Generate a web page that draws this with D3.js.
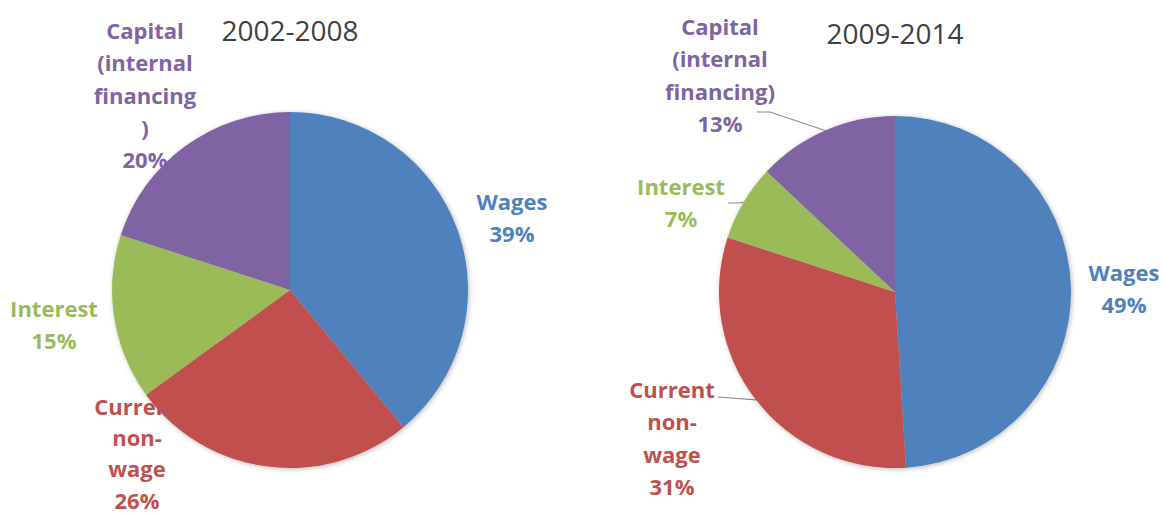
<!DOCTYPE html>
<html>
<head>
<meta charset="utf-8">
<script src="https://cdn.jsdelivr.net/npm/d3@7/dist/d3.min.js"></script>
<style>
  html, body { margin: 0; padding: 0; background: #fff; }
  svg { display: block; font-family: "Open Sans", sans-serif; }
</style>
</head>
<body>
<svg id="chart" width="1164" height="515"></svg>
<script>
// data
const categories = ['Wages', 'Current non-wage', 'Interest', 'Capital (internal financing)']
const periods = ['2002-2008', '2009-2014']
const values_2002_2008 = [39, 26, 15, 20]
const values_2009_2014 = [49, 31, 7, 13]

// label text, split the way the chart wraps it
const label_lines_2002_2008 = [['Wages'], ['Current', 'non-', 'wage'], ['Interest'], ['Capital', '(internal', 'financing', ')']]
const label_lines_2009_2014 = [['Wages'], ['Current', 'non-', 'wage'], ['Interest'], ['Capital', '(internal', 'financing)']]

const colors = ['#4f81bd', '#c0504d', '#9bbb59', '#8064a2']

// layout for each pie: center, radius, title baseline, label anchors
const layouts = [
  {
    cx: 290, cy: 290, r: 178, title_y: 41,
    labels: [[512, 210], [137, 415], [54, 317], [145, 39]],
    spacing: [32.3, 31.2, 32.3, 32.3],
    leaders: [null, null, null, null]
  },
  {
    cx: 895, cy: 292, r: 176, title_y: 44,
    labels: [[1124, 281], [672, 398], [681, 195], [720, 35]],
    spacing: [32.3, 32.3, 32.3, 32.3],
    leaders: [null, [[718, 397]], [[728, 203], [737, 203]], [[757, 112], [770, 112]]]
  }
]

const svg = d3.select('#chart')

const defs = svg.append('defs')
const shadow = defs.append('filter')
  .attr('id', 'pie_shadow')
  .attr('x', '-10%').attr('y', '-10%')
  .attr('width', '120%').attr('height', '120%')
shadow.append('feDropShadow')
  .attr('dx', 1).attr('dy', 1)
  .attr('stdDeviation', 2.5)
  .attr('flood-color', '#000')
  .attr('flood-opacity', 0.28)

const pie = d3.pie().sort(null).value(d => d)

function draw_pie(values, lines, title, lay) {
  let g = svg.append('g')

  // title
  g.append('text')
    .attr('x', lay.cx)
    .attr('y', lay.title_y)
    .attr('text-anchor', 'middle')
    .attr('font-size', 28)
    .attr('fill', '#404040')
    .text(title)

  let arcs = pie(values)
  let arc = d3.arc().innerRadius(0).outerRadius(lay.r)
  let edge = d3.arc().innerRadius(lay.r).outerRadius(lay.r)

  // labels sit beneath the pie
  let labels = g.append('g')
  arcs.forEach((a, i) => {
    let [lx, ly] = lay.labels[i]
    let txt = labels.append('text')
      .attr('text-anchor', 'middle')
      .attr('font-size', 22)
      .attr('font-weight', 700)
      .attr('fill', colors[i])
    let all = lines[i].concat([values[i] + '%'])
    all.forEach((s, k) => {
      txt.append('tspan')
        .attr('x', lx)
        .attr('y', ly + k * lay.spacing[i])
        .text(s)
    })
  })

  // leader lines
  arcs.forEach((a, i) => {
    let pts = lay.leaders[i]
    if (!pts) return
    let [ex, ey] = edge.centroid(a)
    let path = pts.concat([[lay.cx + ex, lay.cy + ey]])
    g.append('path')
      .attr('d', d3.line()(path))
      .attr('fill', 'none')
      .attr('stroke', '#8c8c8c')
      .attr('stroke-width', 1.2)
  })

  let slices = g.append('g')
    .attr('transform', `translate(${lay.cx},${lay.cy})`)
    .attr('filter', 'url(#pie_shadow)')
  slices.selectAll('path')
    .data(arcs)
    .join('path')
    .attr('d', arc)
    .attr('fill', (d, i) => colors[i])
}

draw_pie(values_2002_2008, label_lines_2002_2008, periods[0], layouts[0])
draw_pie(values_2009_2014, label_lines_2009_2014, periods[1], layouts[1])
</script>
</body>
</html>
